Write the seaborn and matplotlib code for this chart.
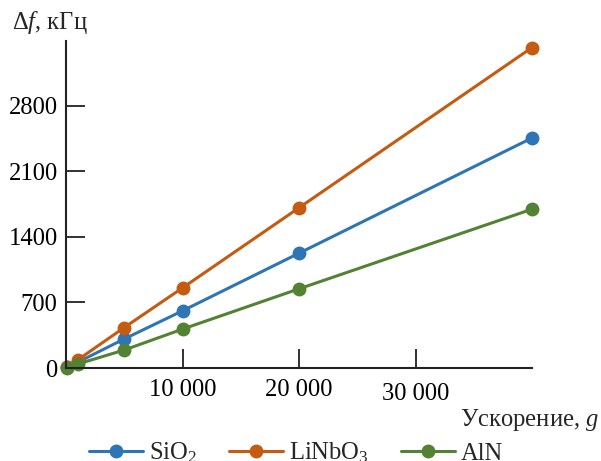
import numpy as np
import pandas as pd
import matplotlib
matplotlib.use("Agg")
import matplotlib.pyplot as plt
import matplotlib.transforms as mtransforms
from matplotlib.lines import Line2D
import seaborn as sns

# Data
accel = [100, 1000, 5000, 10000, 20000, 40000]
sio2 = [6, 61, 310, 610, 1225, 2455]
linbo3 = [9, 86, 432, 855, 1710, 3420]
aln = [4, 42, 192, 415, 845, 1695]
series_names = ["SiO$_2$", "LiNbO$_3$", "AlN"]
colors = ["#2e75b6", "#c55a11", "#548235"]
yticks = [0, 700, 1400, 2100, 2800]
xticks = [10000, 20000, 30000]
xticklabels = ["10 000", "20 000", "30 000"]

df = pd.DataFrame({
    "g": accel * 3,
    "df": sio2 + linbo3 + aln,
    "material": [series_names[0]] * len(accel) + [series_names[1]] * len(accel) + [series_names[2]] * len(accel),
})

sns.set_style("white")
plt.rcParams["font.family"] = ["Liberation Serif", "DejaVu Serif"]
plt.rcParams["mathtext.fontset"] = "custom"
plt.rcParams["mathtext.rm"] = "Liberation Serif"
plt.rcParams["mathtext.it"] = "Liberation Serif:italic"

FS = 17.7
fig = plt.figure(figsize=(6.01, 4.61), dpi=100)
ax = fig.add_axes([66 / 601, 1 - 368 / 461, (532 - 66) / 601, (368 - 41) / 461])

sns.lineplot(data=df, x="g", y="df", hue="material", hue_order=series_names,
             palette=colors, marker="o", markersize=10, markeredgewidth=0,
             linewidth=2.2, ax=ax, legend=False, clip_on=False)

ax.set_xlim(0, 40000)
ax.set_ylim(0, 3490)
ax.set_xticks(xticks)
ax.set_xticklabels(xticklabels)
ax.set_yticks(yticks)
ax.set_xlabel("")
ax.set_ylabel("")
for s in ["top", "right"]:
    ax.spines[s].set_visible(False)
for s in ["left", "bottom"]:
    ax.spines[s].set_color("#222222")
    ax.spines[s].set_linewidth(1.5)
ax.tick_params(axis="both", which="major", bottom=True, left=True, direction="in",
               length=13.5, width=1.3, color="#222222", labelsize=FS, labelcolor="black")
ax.tick_params(axis="y", pad=6)
ax.tick_params(axis="x", pad=8)

# third x tick label sits slightly lower in the reference
lbl = ax.get_xticklabels()[2]
lbl.set_transform(lbl.get_transform() + mtransforms.ScaledTranslation(0, -4 / 100, fig.dpi_scale_trans))

fig.text(12 / 601, 1 - 23 / 461, "Δ$f$, кГц", fontsize=FS, ha="left", va="center")
fig.text(599 / 601, 1 - 420 / 461, "Ускорение, $g$", fontsize=FS, ha="right", va="center")

handles = [Line2D([0], [0], color=c, lw=2.2, marker="o", markersize=10, markeredgewidth=0) for c in colors]
fig.legend(handles, series_names, loc="center", bbox_to_anchor=(296 / 601, 1 - 453 / 461),
           ncol=3, frameon=False, fontsize=FS, handlelength=2.2, handletextpad=0.25,
           columnspacing=1.3, borderaxespad=0, borderpad=0)

fig.savefig("out.png", dpi=100)
